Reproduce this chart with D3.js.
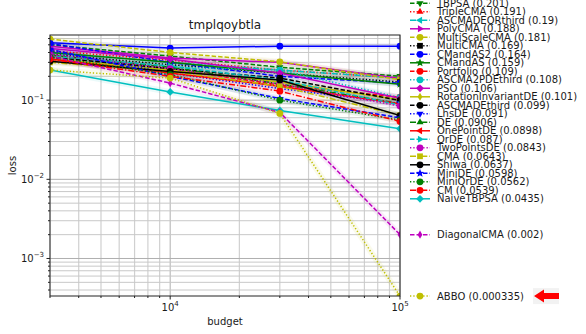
<!DOCTYPE html>
<html>
<head>
<meta charset="utf-8">
<script src="https://cdn.jsdelivr.net/npm/d3@7"></script>
<style>
  body { margin: 0; background: #fff; }
  text { font-family: "DejaVu Sans", sans-serif; fill: #1a1a1a; }
</style>
</head>
<body>
<div id="chart"></div>
<script>
// budgets evaluated
const budgets = [3000, 10000, 30000, 100000];

// optimizers, sorted by final loss (legend order)
const names = ['NGO', 'TBPSA', 'TripleCMA', 'ASCMADEQRthird', 'PolyCMA', 'MultiScaleCMA', 'MultiCMA',
    'CMandAS2', 'CMandAS', 'Portfolio', 'ASCMA2PDEthird', 'PSO', 'RotationInvariantDE', 'ASCMADEthird',
    'LhsDE', 'DE', 'OnePointDE', 'QrDE', 'TwoPointsDE', 'CMA', 'Shiwa', 'MiniDE', 'MiniQrDE', 'CM',
    'NaiveTBPSA', 'DiagonalCMA', 'ABBO'];

const loss3000 = [0.53, 0.50, 0.42, 0.40, 0.48, 0.59, 0.38, 0.52, 0.40, 0.36, 0.34, 0.45, 0.33, 0.35,
    0.42, 0.37, 0.33, 0.36, 0.38, 0.30, 0.31, 0.44, 0.35, 0.33, 0.24, 0.36, 0.24];
const loss10000 = [0.455, 0.36, 0.32, 0.30, 0.34, 0.40, 0.28, 0.30, 0.30, 0.25, 0.26, 0.33, 0.24, 0.25,
    0.22, 0.26, 0.22, 0.27, 0.25, 0.23, 0.23, 0.20, 0.21, 0.20, 0.127, 0.164, 0.19];
const loss30000 = [0.48, 0.26, 0.24, 0.24, 0.30, 0.305, 0.22, 0.20, 0.22, 0.155, 0.24, 0.22, 0.17, 0.19,
    0.14, 0.16, 0.15, 0.18, 0.16, 0.15, 0.18, 0.105, 0.10, 0.13, 0.074, 0.07, 0.068];
const loss100000 = [0.48, 0.201, 0.191, 0.19, 0.188, 0.181, 0.169, 0.164, 0.159, 0.109, 0.108, 0.106,
    0.101, 0.099, 0.091, 0.0906, 0.0898, 0.087, 0.0843, 0.0643, 0.0637, 0.0598, 0.0562, 0.0539, 0.0435,
    0.002, 0.000335];

// style per optimizer: colour letter, line style, marker
const styles = ['b-o', 'g--v', 'r:^', 'c-.<', 'm->', 'y--o', 'k:s', 'b--h', 'g-*', 'r--o', 'c:o', 'm-D',
    'y-d', 'k--h', 'b:v', 'g-.^', 'r-<', 'c-->', 'm:o', 'y-.s', 'k-h', 'b--*', 'g:h', 'r-.o', 'c-D',
    'm--d', 'y:o'];

const colorMap = { b: '#0000ff', g: '#008000', r: '#ff0000', c: '#00bfbf', m: '#bf00bf', y: '#bfbf00', k: '#000000' };
const dashMap = { '-': null, '--': '4.5,2', ':': '1.3,2', '-.': '6,2,1.3,2' };

function parseStyle(s) {
    const col = s[0];
    const mk = s[s.length - 1];
    const ls = s.slice(1, -1);
    return { color: colorMap[col], dash: dashMap[ls], marker: mk };
}

function markerPath(m, r) {
    const p = d3.path();
    if (m === 'o' || m === 'h') {
        p.arc(0, 0, r, 0, 2 * Math.PI);
    } else if (m === 's') {
        p.rect(-r * 0.85, -r * 0.85, r * 1.7, r * 1.7);
    } else if (m === 'D') {
        p.moveTo(0, -r * 1.15); p.lineTo(r * 1.15, 0); p.lineTo(0, r * 1.15); p.lineTo(-r * 1.15, 0); p.closePath();
    } else if (m === 'd') {
        p.moveTo(0, -r * 1.2); p.lineTo(r * 0.7, 0); p.lineTo(0, r * 1.2); p.lineTo(-r * 0.7, 0); p.closePath();
    } else if (m === '*') {
        for (let i = 0; i < 10; i++) {
            const a = -Math.PI / 2 + i * Math.PI / 5;
            const rr = i % 2 === 0 ? r * 1.3 : r * 0.55;
            if (i === 0) p.moveTo(rr * Math.cos(a), rr * Math.sin(a));
            else p.lineTo(rr * Math.cos(a), rr * Math.sin(a));
        }
        p.closePath();
    } else {
        const rot = { '^': -90, 'v': 90, '<': 180, '>': 0 }[m] * Math.PI / 180;
        for (let i = 0; i < 3; i++) {
            const a = rot + i * 2 * Math.PI / 3;
            const x = r * 1.2 * Math.cos(a), y = r * 1.2 * Math.sin(a);
            if (i === 0) p.moveTo(x, y); else p.lineTo(x, y);
        }
        p.closePath();
    }
    return p.toString();
}

const series = names.map((name, i) => ({
    name: name,
    final: loss100000[i],
    values: [loss3000[i], loss10000[i], loss30000[i], loss100000[i]],
    style: parseStyle(styles[i])
}));

const width = 586, height = 334;
const margin = { left: 50, right: 186, top: 35, bottom: 38 };

const svg = d3.select('#chart').append('svg')
    .attr('width', width)
    .attr('height', height);

const x = d3.scaleLog().domain([3000, 100000]).range([margin.left, width - margin.right]);
const y = d3.scaleLog().domain([0.000336, 0.665]).range([height - margin.bottom, margin.top]);

const isMajor = v => Math.abs(Math.log10(v) - Math.round(Math.log10(v))) < 1e-9;

// grid
const grid = svg.append('g');
grid.selectAll('line.vx')
    .data(x.ticks())
    .join('line')
    .attr('x1', d => x(d)).attr('x2', d => x(d))
    .attr('y1', margin.top).attr('y2', height - margin.bottom)
    .attr('stroke', d => isMajor(d) ? '#b0b0b0' : '#d0d0d0')
    .attr('stroke-width', d => isMajor(d) ? 1 : 1.2);
grid.selectAll('line.hy')
    .data(y.ticks().filter(d => d < 0.665 && d > 0.000336))
    .join('line')
    .attr('y1', d => y(d)).attr('y2', d => y(d))
    .attr('x1', margin.left).attr('x2', width - margin.right)
    .attr('stroke', d => isMajor(d) ? '#b0b0b0' : '#c8c8c8')
    .attr('stroke-width', 1);

svg.append('clipPath').attr('id', 'plotclip')
    .append('rect')
    .attr('x', margin.left).attr('y', margin.top)
    .attr('width', width - margin.left - margin.right)
    .attr('height', height - margin.top - margin.bottom);

const plot = svg.append('g').attr('clip-path', 'url(#plotclip)');

const line = d3.line()
    .x((d, i) => x(budgets[i]))
    .y(d => y(d));

// faint halos first, then the lines, then the markers
plot.selectAll('path.halo')
    .data(series)
    .join('path')
    .attr('d', d => line(d.values))
    .attr('fill', 'none')
    .attr('stroke', d => d.style.color)
    .attr('stroke-width', 6)
    .attr('stroke-opacity', 0.08);

plot.selectAll('path.main')
    .data(series)
    .join('path')
    .attr('d', d => line(d.values))
    .attr('fill', 'none')
    .attr('stroke', d => d.style.color)
    .attr('stroke-width', 1.5)
    .attr('stroke-dasharray', d => d.style.dash);

const pts = [];
series.forEach(s => s.values.forEach((v, i) => pts.push({ s: s, b: budgets[i], v: v })));

plot.selectAll('path.marker')
    .data(pts)
    .join('path')
    .attr('transform', d => `translate(${x(d.b)},${y(d.v)})`)
    .attr('d', d => markerPath(d.s.style.marker, 3.4))
    .attr('fill', d => d.s.style.color);

// frame
svg.append('rect')
    .attr('x', margin.left).attr('y', margin.top)
    .attr('width', width - margin.left - margin.right)
    .attr('height', height - margin.top - margin.bottom)
    .attr('fill', 'none')
    .attr('stroke', '#222')
    .attr('stroke-width', 1);

// ticks
const bottom = height - margin.bottom;
svg.append('g').selectAll('line')
    .data(x.ticks())
    .join('line')
    .attr('x1', d => x(d)).attr('x2', d => x(d))
    .attr('y1', bottom).attr('y2', d => bottom + (isMajor(d) ? 3.5 : 2))
    .attr('stroke', '#222');
svg.append('g').selectAll('line')
    .data(y.ticks().filter(d => d < 0.665 && d > 0.000336))
    .join('line')
    .attr('y1', d => y(d)).attr('y2', d => y(d))
    .attr('x1', margin.left).attr('x2', d => margin.left - (isMajor(d) ? 3.5 : 2))
    .attr('stroke', '#222');

function powLabel(sel, exp) {
    sel.append('tspan').text('10');
    sel.append('tspan').attr('dy', -5).attr('font-size', 7).text(exp);
}

svg.append('g').selectAll('text')
    .data(x.ticks().filter(isMajor))
    .join('text')
    .attr('x', d => x(d))
    .attr('y', bottom + 15)
    .attr('text-anchor', 'middle')
    .attr('font-size', 10)
    .each(function (d) { powLabel(d3.select(this), String(Math.round(Math.log10(d)))); });

svg.append('g').selectAll('text')
    .data(y.ticks().filter(d => isMajor(d) && d < 0.665 && d > 0.000336))
    .join('text')
    .attr('x', margin.left - 6)
    .attr('y', d => y(d) + 4)
    .attr('text-anchor', 'end')
    .attr('font-size', 10)
    .each(function (d) { powLabel(d3.select(this), '\u2212' + Math.round(-Math.log10(d))); });

// titles
svg.append('text')
    .attr('x', (margin.left + width - margin.right) / 2)
    .attr('y', 29)
    .attr('text-anchor', 'middle')
    .attr('font-size', 12)
    .text('tmplqoybtla');

svg.append('text')
    .attr('x', (margin.left + width - margin.right) / 2)
    .attr('y', 325)
    .attr('text-anchor', 'middle')
    .attr('font-size', 10)
    .text('budget');

svg.append('text')
    .attr('transform', `translate(16,${(margin.top + bottom) / 2}) rotate(-90)`)
    .attr('text-anchor', 'middle')
    .attr('font-size', 10)
    .text('loss');

// legend placed at final values, pushed apart where they overlap
const gap = 8.5;
let groups = series.map(s => ({ items: [s], center: y(s.final) }));
let merged = true;
while (merged) {
    merged = false;
    for (let i = 0; i < groups.length - 1; i++) {
        const a = groups[i], b = groups[i + 1];
        const aBottom = a.center + (a.items.length - 1) * gap / 2;
        const bTop = b.center - (b.items.length - 1) * gap / 2;
        if (bTop - aBottom < gap) {
            const items = a.items.concat(b.items);
            groups.splice(i, 2, { items: items, center: d3.mean(items, s => y(s.final)) });
            merged = true;
            break;
        }
    }
}
groups.forEach(g => g.items.forEach((s, k) => {
    s.ly = g.center - (g.items.length - 1) * gap / 2 + k * gap;
}));

const lx = width - margin.right + 10;
const legend = svg.append('g').selectAll('g')
    .data(series)
    .join('g')
    .attr('transform', d => `translate(${lx},${d.ly})`);

legend.append('line')
    .attr('x1', 0).attr('x2', 20)
    .attr('stroke', d => d.style.color)
    .attr('stroke-width', 1.5)
    .attr('stroke-dasharray', d => d.style.dash);
legend.append('path')
    .attr('transform', 'translate(10,0)')
    .attr('d', d => markerPath(d.style.marker, 3.4))
    .attr('fill', d => d.style.color);
legend.append('text')
    .attr('x', 27)
    .attr('y', 3.6)
    .attr('font-size', 10)
    .text(d => `${d.name} (${d.final})`);

// red arrow next to the best optimizer
const best = series[series.length - 1];
const arrow = svg.append('g')
    .attr('transform', `translate(${lx + 123},${best.ly})`);
arrow.append('rect')
    .attr('x', 0).attr('y', -8)
    .attr('width', 26).attr('height', 16)
    .attr('fill', '#f2f2f2');
arrow.append('path')
    .attr('d', 'M1,0 L11,-6.5 L11,-3 L26,-3 L26,3 L11,3 L11,6.5 Z')
    .attr('fill', '#ff0000');
</script>
</body>
</html>
